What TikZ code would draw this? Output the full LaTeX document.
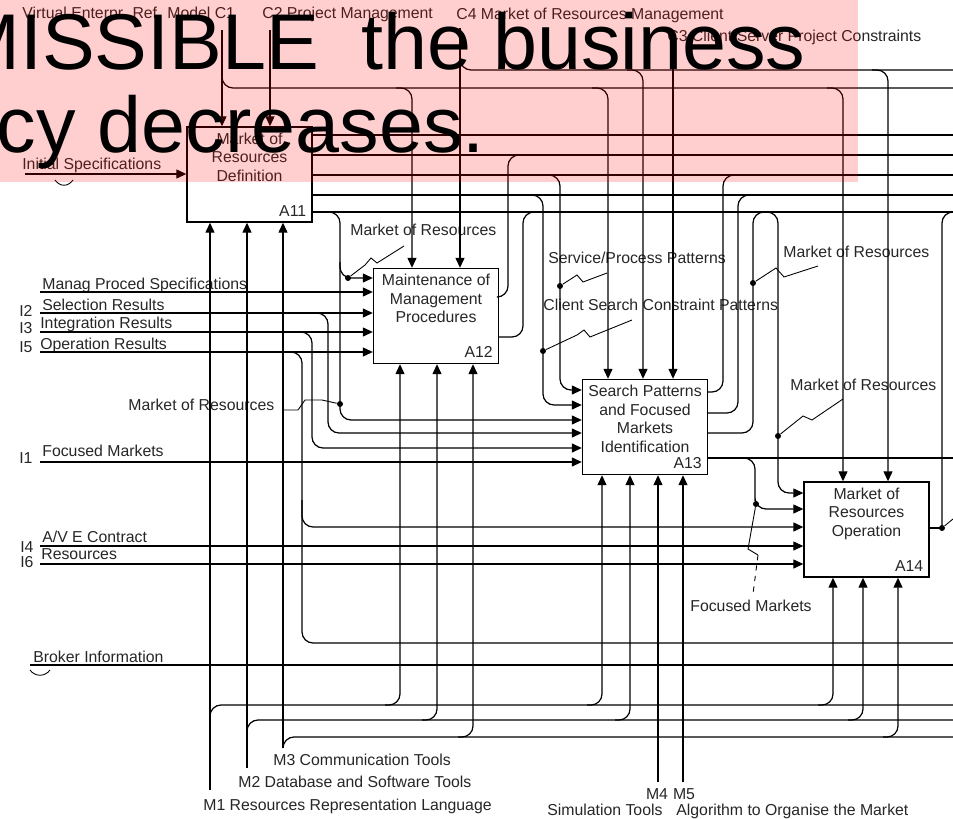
\documentclass[tikz,border=0pt]{standalone}
\usepackage{fontspec}
\setmainfont{Liberation Sans}
\usetikzlibrary{arrows.meta,positioning}

\begin{document}
\begin{tikzpicture}[x=0.02cm,y=-0.02cm,
    every node/.style={font=\fontsize{9}{10.5}\selectfont, text=black!85},
    actbox/.style={draw, line width=.8pt, minimum width=2.5cm, minimum height=1.9cm, inner sep=0pt},
    boxtext/.style={align=center, inner sep=0pt},
    anum/.style={anchor=south east, inner sep=3.5pt},
    lbl/.style={anchor=west, inner sep=0pt, text height=6.5pt, text depth=0pt},
    bigtext/.style={inner sep=0pt, text=black, font=\fontsize{45}{50}\selectfont},
    conn/.style={line width=.7pt, rounded corners=.22cm},
    arr/.style={conn, -{Triangle[length=.2cm,width=.18cm]}},
    sq/.style={line width=.5pt},
    jdot/.style={circle, fill, inner sep=0pt, minimum size=.12cm}]
\useasboundingbox (0,0) rectangle (953,818);
\begin{scope}
\clip (0,0) rectangle (953,818);

\node[actbox] (A11) at (249.5,174.5) {};
\node[actbox] (A12) at (436,316) {};
\node[actbox] (A13) at (645,427) {};
\node[actbox] (A14) at (866.5,529.5) {};
\node[boxtext, below=3.5pt of A11.north] (A11t) {Market of\\Resources\\Definition};
\node[boxtext, below=3.5pt of A12.north] (A12t) {Maintenance of\\Management\\Procedures};
\node[boxtext, below=3.5pt of A13.north] (A13t) {Search Patterns\\and Focused\\Markets\\Identification};
\node[boxtext, below=3.5pt of A14.north] (A14t) {Market of\\Resources\\Operation};
\node[anum] (A11n) at (A11.south east) {A11};
\node[anum] (A12n) at (A12.south east) {A12};
\node[anum] (A13n) at (A13.south east) {A13};
\node[anum] (A14n) at (A14.south east) {A14};

\coordinate (c1) at (222,30);
\coordinate (c2) at (270,30);
\coordinate (c4) at (460,28);
\coordinate (c3) at (673,46);
\coordinate (in0) at (25,174);
\coordinate (mp) at (40,292);
\coordinate (i2) at (40,313);
\coordinate (i3) at (40,332);
\coordinate (i5) at (40,352);
\coordinate (i1) at (40,462);
\coordinate (i4) at (40,546);
\coordinate (i6) at (40,564);
\coordinate (bi) at (30,665);
\coordinate (m1) at (210,790);
\coordinate (m2) at (247,768);
\coordinate (m3) at (283,748);
\coordinate (m4) at (658,782);
\coordinate (m5) at (683,782);

\node[lbl] (c1l) at (22,13) {Virtual Enterpr. Ref. Model C1};
\node[lbl] (c2l) at (262,13) {C2 Project Management};
\node[lbl] (c4l) at (456,14) {C4 Market of Resources Management};
\node[lbl] (c3l) at (667,36) {C3 Client Server Project Constraints};
\node[lbl] (in0l) at (22,164) {Initial Specifications};
\node[lbl] (mpl) at (42,284) {Manag Proced Specifications};
\node[lbl] (i2n) at (19,311) {I2};
\node[lbl] (i2l) at (42,305) {Selection Results};
\node[lbl] (i3n) at (19,328) {I3};
\node[lbl] (i3l) at (40,323) {Integration Results};
\node[lbl] (i5n) at (19,347) {I5};
\node[lbl] (i5l) at (40,344) {Operation Results};
\node[lbl] (i1n) at (19,458) {I1};
\node[lbl] (i1l) at (42,451) {Focused Markets};
\node[lbl] (i4n) at (20,547) {I4};
\node[lbl] (i4l) at (42,537) {A/V E Contract};
\node[lbl] (i6n) at (20,562) {I6};
\node[lbl] (i6l) at (41,554) {Resources};
\node[lbl] (bil) at (33,657) {Broker Information};
\node[lbl] (mr1) at (350,230) {Market of Resources};
\node[lbl] (mr2) at (128,405) {Market of Resources};
\node[lbl] (spp) at (548,258) {Service/Process Patterns};
\node[lbl] (cscp) at (543,305) {Client Search Constraint Patterns};
\node[lbl] (mr3) at (783,252) {Market of Resources};
\node[lbl] (mr4) at (790,385) {Market of Resources};
\node[lbl] (fm) at (690,606) {Focused Markets};
\node[lbl] (m3l) at (273,760) {M3 Communication Tools};
\node[lbl] (m2l) at (238,782) {M2 Database and Software Tools};
\node[lbl] (m1l) at (203,805) {M1 Resources Representation Language};
\node[inner sep=0pt] (m4n) at (657,794) {M4};
\node[inner sep=0pt] (m5n) at (684,794) {M5};
\node[lbl] (m4l) at (547,810) {Simulation Tools};
\node[lbl] (m5l) at (676,810) {Algorithm to Organise the Market};

\draw[arr] (c1) -- (c1 |- A11.north);
\draw[conn] (222,60) |- (953,88);
\draw[arr] (396,88) -| (412,0 |- A12.north);
\draw[arr] (592,88) -| (608,0 |- A13.north);
\draw[arr] (827,88) -| (843,0 |- A14.north);
\draw[arr] (c2) -- (c2 |- A11.north);
\draw[arr] (c4) -- (c4 |- A12.north);
\draw[conn] (460,50) |- (953,70);
\draw[arr] (627,70) -| (643,0 |- A13.north);
\draw[arr] (872,70) -| (888,0 |- A14.north);
\draw[arr] (c3) -- (c3 |- A13.north);

\foreach \y in {135,155,175,195,212}
    \draw[conn] (A11.east |- 0,\y) -- (953,\y);
\draw[arr] (326,212) -| (340,330) |- (A13.west |- 0,420);
\draw[arr] (340,262) |- (A12.west |- 0,278);
\draw[arr] (528,195) -| (543,330) |- (A13.west |- 0,405);
\draw[arr] (545,175) -| (560,330) |- (A13.west |- 0,390);

\foreach \p in {mp,i2,i3,i5}
    \draw[arr] (\p) -- (\p -| A12.west);
\draw[arr] (in0) -- (in0 -| A11.west);
\draw[arr] (i1) -- (i1 -| A13.west);
\draw[arr] (i4) -- (i4 -| A14.west);
\draw[arr] (i6) -- (i6 -| A14.west);
\draw[conn] (bi) -- (953,665);
\draw[arr] (312,313) -| (328,380) |- (A13.west |- 0,433);
\draw[arr] (296,332) -| (312,400) |- (A13.west |- 0,448);
\draw[arr] (286,352) -| (302,450) |- (A14.west |- 0,527);
\draw[conn] (302,500) |- (953,643);

\draw[conn] (A12.east |- 0,297) -| (508,230) |- (528,155);
\draw[conn] (A12.east |- 0,337) -| (523,280) |- (540,212);
\draw[conn] (A13.east |- 0,392) -| (723,300) |- (740,175);
\draw[conn] (A13.east |- 0,413) -| (738,300) |- (755,195);
\draw[arr] (A13.east |- 0,433) -| (753,300) |- (765,212) -| (778,300) |- (A14.west |- 0,493);
\draw[conn] (A13.east |- 0,458) -- (953,458);
\draw[arr] (742,458) -| (755,490) |- (A14.west |- 0,509);
\draw[conn] (A14.east |- 0,528) -- (942,528);
\draw[conn] (942,528) |- (953,212);

\draw[arr] (m1) -- (m1 |- A11.south);
\draw[arr] (m2) -- (m2 |- A11.south);
\draw[arr] (m3) -- (m3 |- A11.south);
\draw[conn] (210,725) |- (953,705);
\draw[conn] (247,740) |- (953,720);
\draw[conn] (283,748) |- (953,737);
\draw[arr] (385,705) -| (400,0 |- A12.south);
\draw[arr] (587,705) -| (602,0 |- A13.south);
\draw[arr] (818,705) -| (833,0 |- A14.south);
\draw[arr] (422,720) -| (437,0 |- A12.south);
\draw[arr] (615,720) -| (630,0 |- A13.south);
\draw[arr] (848,720) -| (863,0 |- A14.south);
\draw[arr] (458,737) -| (473,0 |- A12.south);
\draw[arr] (883,737) -| (898,0 |- A14.south);
\draw[arr] (m4) -- (m4 |- A13.south);
\draw[arr] (m5) -- (m5 |- A13.south);

\node[jdot] (d1) at (348,278) {};
\node[jdot] (d2) at (340,404) {};
\node[jdot] (d3) at (560,286) {};
\node[jdot] (d4) at (543,351) {};
\node[jdot] (d5) at (753,283) {};
\node[jdot] (d6) at (778,436) {};
\node[jdot] (d7) at (756,504) {};
\node[jdot] (d8) at (942,528) {};
\draw[sq] (d1) -- (365,265) -- (371,258) -- (377,263) -- (404,246);
\draw[sq] (282,410) -- (298,410) -- (305,400) -- (322,400) -- (d2);
\draw[sq] (d3) -- (577,275) -- (583,282) -- (607,273);
\draw[sq] (d4) -- (577,335) -- (584,330) -- (590,337) -- (632,320);
\draw[sq] (d5) -- (776,268) -- (784,277) -- (818,266);
\draw[sq] (d6) -- (803,416) -- (812,420) -- (843,399);
\draw[sq] (d7) -- (748,549) -- (758,555);
\draw[sq, dashed] (758,555) -- (753,594);
\draw[sq] (d8) -- (953,519);
\draw[sq] (55,180) .. controls (60,187) and (68,187) .. (73,180);
\draw[sq] (30,670) .. controls (35,677) and (45,677) .. (50,670);

\fill[red, fill opacity=.19] (0,0) rectangle (858,182);
\node[bigtext, anchor=base west] (msgA) at (-46,69) {MISSIBLE};
\node[bigtext, anchor=base east] (msgB) at (806,69) {the business};
\node[bigtext, anchor=base east] (msgC) at (485,152) {cy decreases.};
\end{scope}
\end{tikzpicture}
\end{document}
